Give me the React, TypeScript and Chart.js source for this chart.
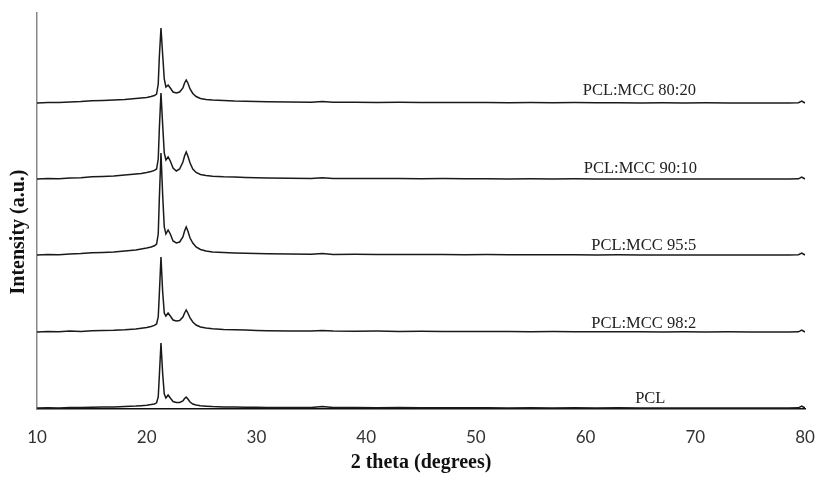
import React, { useEffect, useRef } from "react";
import { Chart, registerables } from "chart.js";

Chart.register(...registerables);

// 2θ sampling positions (degrees)
const twoTheta = [
  10, 11, 12, 13, 14, 15, 16, 17, 18, 19,
  19.5, 20, 20.4, 20.7, 20.9,
  21.05, 21.15, 21.3, 21.45, 21.6, 21.75, 21.95, 22.15, 22.4, 22.7,
  23.0, 23.3, 23.45, 23.6, 23.75, 23.95, 24.2, 24.5, 24.9, 25.4,
  26, 27, 28, 29, 30, 31, 33, 35, 36, 37,
  39, 41, 43, 45, 47, 49, 51, 53, 55, 57,
  59, 61, 63, 65, 67, 69, 71, 73, 75, 77,
  78.5, 79.4, 79.7, 80,
];

// Intensities (a.u., already vertically offset as in the figure)
const pcl = [
  1, 1.3, 1.1, 1.5, 1.4, 1.8, 2, 2.1, 2.4, 2.9,
  3.3, 3.8, 4.4, 5, 6.2,
  12, 33, 66, 36, 15, 11, 14, 11, 7.5, 6.5,
  6.6, 8, 10.5, 12, 10, 7, 5, 4, 3.2, 2.8,
  2.4, 2.1, 2, 1.7, 1.8, 1.5, 1.4, 1.6, 2.6, 1.5,
  1.4, 1.3, 1.4, 1.2, 1.3, 1.2, 1.3, 1.1, 1.2, 1.1,
  1.2, 1.1, 1.2, 1.0, 1.1, 1.0, 1.1, 1.0, 1.1, 1.0,
  1.1, 1.2, 3, 1,
];
const mcc98_2 = [
  77, 77.6, 77.3, 77.9, 77.6, 78.2, 78.5, 78.7, 79.2, 80,
  80.8, 81.6, 82.6, 83.6, 85,
  92, 115, 152, 118, 96, 93, 96, 93, 89, 88,
  88.5, 92, 96, 99, 96, 91, 87, 84, 82, 81,
  80.3, 79.6, 79.2, 78.9, 78.6, 78.3, 78.1, 78, 78.6, 77.9,
  77.8, 77.9, 77.6, 77.7, 77.5, 77.6, 77.4, 77.5, 77.3, 77.4,
  77.2, 77.3, 77.2, 77.3, 77.1, 77.2, 77.1, 77.2, 77, 77.1,
  77, 77.2, 79, 77,
];
const mcc95_5 = [
  154, 154.6, 154.3, 155, 155.4, 156.2, 156.5, 157, 158, 159,
  160, 161, 162, 163.2, 165,
  175, 210, 256, 215, 182, 175, 179, 175, 168, 166,
  167, 172, 178, 182, 178, 171, 166, 162, 159.5, 158,
  157, 156.4, 156, 155.8, 155.5, 155.2, 155, 154.8, 155.6, 154.6,
  154.7, 154.5, 154.6, 154.4, 154.5, 154.3, 154.4, 154.2, 154.3, 154.2,
  154.3, 154.1, 154.2, 154, 154.1, 154, 154.1, 154, 154.1, 154,
  154.1, 154.3, 156, 154,
];
const mcc90_10 = [
  230, 230.6, 230.3, 231, 231.3, 232.2, 232.5, 233, 234, 235,
  235.6, 236.5, 237.5, 238.6, 240,
  250, 280, 316, 285, 256, 249, 252, 248, 241, 238,
  240, 247, 253, 257, 253, 246, 240, 236.5, 234.5, 233.5,
  232.8, 232.2, 232, 231.6, 231.3, 231, 230.8, 230.6, 231.3, 230.5,
  230.6, 230.4, 230.5, 230.3, 230.4, 230.2, 230.3, 230.1, 230.2, 230.1,
  230.2, 230, 230.1, 230, 230.1, 229.9, 230, 229.9, 230, 229.9,
  230, 230.2, 232, 230,
];
const mcc80_20 = [
  306, 306.4, 306.5, 307.1, 307.5, 308.2, 308.5, 309, 309.6, 310.5,
  311, 311.6, 312.5, 313.5, 315,
  325, 352, 381, 355, 330, 322, 324, 321, 317, 316,
  317, 321, 326, 329, 326, 320, 315.5, 312.5, 310.5, 309.5,
  309, 308.5, 308, 307.8, 307.5, 307.3, 307, 306.8, 307.4, 306.7,
  306.8, 306.6, 306.7, 306.5, 306.6, 306.4, 306.5, 306.3, 306.4, 306.3,
  306.4, 306.2, 306.3, 306.1, 306.2, 306.1, 306.2, 306, 306.1, 306,
  306.1, 306.3, 308, 306,
];

const seriesNames = ["PCL", "PCL:MCC 98:2", "PCL:MCC 95:5", "PCL:MCC 90:10", "PCL:MCC 80:20"];
const seriesValues = [pcl, mcc98_2, mcc95_5, mcc90_10, mcc80_20];
// label anchor (2θ, intensity) for each trace's name
const labelTheta = [65.9, 65.3, 65.3, 65.0, 64.9];
const labelLevel = [1, 77, 154, 230, 306];

const xTicks = [10, 20, 30, 40, 50, 60, 70, 80];
const xTitle = "2 theta (degrees)";
const yTitle = "Intensity (a.u.)";

export default function App() {
  const ref = useRef<HTMLCanvasElement | null>(null);

  useEffect(() => {
    document.body.style.margin = "0";
    const canvas = ref.current;
    if (!canvas) return;

    const annotate = {
      id: "annotate",
      afterDraw(chart: any) {
        const ctx = chart.ctx as CanvasRenderingContext2D;
        const xs = chart.scales.x;
        const ys = chart.scales.y;
        ctx.save();
        ctx.fillStyle = "#222";
        ctx.font = '16.5px "Liberation Serif"';
        ctx.textAlign = "center";
        ctx.textBaseline = "alphabetic";
        const lifts = [5, 4, 5, 6, 8];
        seriesNames.forEach((name, i) => {
          const px = xs.getPixelForValue(labelTheta[i]);
          const py = ys.getPixelForValue(labelLevel[i]) - lifts[i];
          ctx.fillText(name, px, py);
        });
        // y title
        ctx.fillStyle = "#111";
        ctx.font = 'bold 20px "Liberation Serif"';
        ctx.translate(18.5, 232);
        ctx.rotate(-Math.PI / 2);
        ctx.textBaseline = "middle";
        ctx.fillText(yTitle, 0, 0);
        ctx.restore();
      },
    };

    const chart = new Chart(canvas, {
      type: "line",
      data: {
        datasets: seriesValues.map((vals, i) => ({
          label: seriesNames[i],
          data: twoTheta.map((t, j) => ({ x: t, y: vals[j] })),
          borderColor: "#1a1a1a",
          borderWidth: 1.5,
          pointRadius: 0,
          tension: 0,
          fill: false,
        })),
      },
      options: {
        animation: false,
        responsive: false,
        devicePixelRatio: 1,
        layout: { padding: { left: 0, right: 12, top: 13, bottom: 0 } },
        plugins: { legend: { display: false }, tooltip: { enabled: false } },
        scales: {
          x: {
            type: "linear",
            min: 10,
            max: 80,
            afterBuildTicks: (s: any) => {
              s.ticks = xTicks.map((v) => ({ value: v }));
            },
            ticks: {
              color: "#333",
              font: { family: "Lato", size: 17 },
              padding: 18,
              maxRotation: 0,
            },
            grid: { display: false, drawTicks: false },
            border: { display: true, color: "#111", width: 1.5 },
            title: {
              display: true,
              text: xTitle,
              color: "#111",
              font: { family: "Liberation Serif", size: 20, weight: "bold" },
              padding: { top: 0, bottom: 2 },
            },
            afterFit: (s: any) => {
              s.height = 68;
              s.paddingLeft = 0;
              s.paddingRight = 0;
            },
          },
          y: {
            min: 0,
            max: 396,
            ticks: { display: false },
            grid: { display: false, drawTicks: false },
            border: { display: true, color: "#888", width: 1.5 },
            afterFit: (s: any) => {
              s.width = 37;
            },
          },
        },
      },
      plugins: [annotate],
    } as any);

    return () => chart.destroy();
  }, []);

  return (
    <div style={{ width: 817, height: 477 }}>
      <canvas ref={ref} width={817} height={477} />
    </div>
  );
}
